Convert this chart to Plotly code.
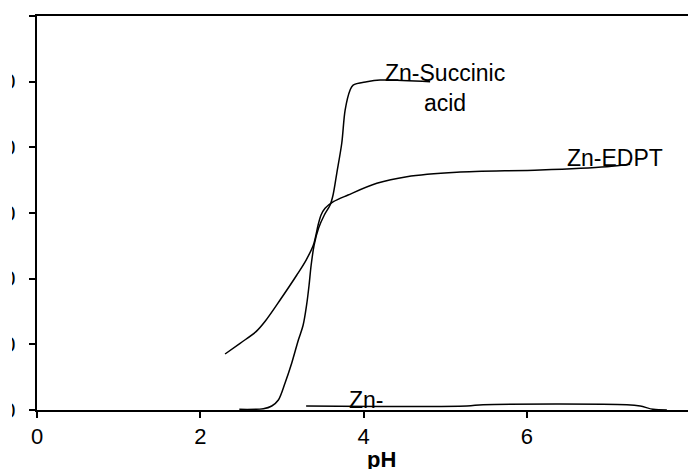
import plotly.graph_objects as go

# Zn-Succinic acid curve
succ_x = [2.479, 2.773, 2.876, 2.957, 3.039, 3.121, 3.202, 3.260, 3.303, 3.333, 3.358,
          3.395, 3.450, 3.520, 3.591, 3.627, 3.673, 3.734, 3.775, 3.836, 3.873, 4.040, 4.203, 4.816]
succ_y = [0.1, 0.2, 0.61, 1.52, 4.11, 7.16, 10.66, 12.9, 16.0, 19.0, 22.0,
          25.1, 27.7, 29.7, 31.22, 32.74, 36.09, 40.66, 45.68, 48.73, 49.49, 49.99, 50.25, 49.99]

# Zn-EDPT curve
edpt_x = [2.304, 2.488, 2.680, 2.800, 2.978, 3.183, 3.297, 3.386, 3.444, 3.480, 3.529, 3.631,
          3.811, 4.163, 4.531, 5.143, 6.164, 6.982, 7.267]
edpt_y = [8.53, 10.16, 11.9, 13.6, 16.75, 20.56, 22.84, 25.13, 28.17, 29.69, 30.71, 31.72,
          32.74, 34.52, 35.53, 36.20, 36.55, 37.05, 37.41]

# Zn- (third) curve
zn3_x = [3.297, 5.266, 5.466, 7.227, 7.39, 7.549, 7.717]
zn3_y = [0.61, 0.61, 0.81, 0.81, 0.61, 0.1, 0.0]

x_ticks = [0, 2, 4, 6, 8]
y_ticks = [0, 10, 20, 30, 40, 50, 60]

fig = go.Figure()
for xs, ys in [(succ_x, succ_y), (edpt_x, edpt_y), (zn3_x, zn3_y)]:
    fig.add_trace(go.Scatter(x=xs, y=ys, mode="lines",
                             line=dict(color="black", width=1.5, shape="spline", smoothing=0.9),
                             showlegend=False, hoverinfo="skip"))

ann_font = dict(family="Liberation Sans, Arial, sans-serif", size=23, color="black")
fig.add_annotation(x=4.994, y=49.1, xref="x", yref="y", text="Zn-Succinic<br>acid",
                   showarrow=False, xanchor="center", yanchor="middle", align="center", font=ann_font)
fig.add_annotation(x=7.083, y=38.37, xref="x", yref="y", text="Zn-EDPT",
                   showarrow=False, xanchor="center", yanchor="middle", font=ann_font)
fig.add_annotation(x=3.80, y=1.52, xref="x", yref="y", text="Zn-",
                   showarrow=False, xanchor="left", yanchor="middle", font=ann_font)
fig.add_annotation(x=0.527, y=-0.1256, xref="paper", yref="paper", text="<b>pH</b>",
                   showarrow=False, xanchor="center", yanchor="middle",
                   font=dict(family="Liberation Sans, Arial, sans-serif", size=22, color="black"))

# white strip at the far left edge (the reference's y labels are cut there)
fig.add_shape(type="rect", xref="paper", yref="paper", x0=-0.2, x1=-0.0383, y0=-0.12, y1=1.05,
              fillcolor="white", line=dict(width=0), layer="above")

fig.update_layout(
    width=688, height=461,
    margin=dict(l=29, r=6, t=8, b=59, pad=0),
    plot_bgcolor="white", paper_bgcolor="white",
    font=dict(family="Liberation Sans, Arial, sans-serif", size=22, color="black"),
    template=None,
)
fig.update_xaxes(range=[0, 8], tickvals=x_ticks, ticktext=[str(v) for v in x_ticks],
                 showgrid=False, zeroline=False, showline=True, linecolor="black", linewidth=2,
                 mirror=True, ticks="outside", ticklen=6, tickwidth=2, tickcolor="black",
                 automargin=False)
fig.update_yaxes(range=[0, 60], tickvals=y_ticks, ticktext=[str(v) for v in y_ticks],
                 showgrid=False, zeroline=False, showline=True, linecolor="black", linewidth=2,
                 mirror=True, ticks="outside", ticklen=6, tickwidth=2, tickcolor="black",
                 ticklabelstandoff=9, automargin=False)

fig.write_html("out.html")
